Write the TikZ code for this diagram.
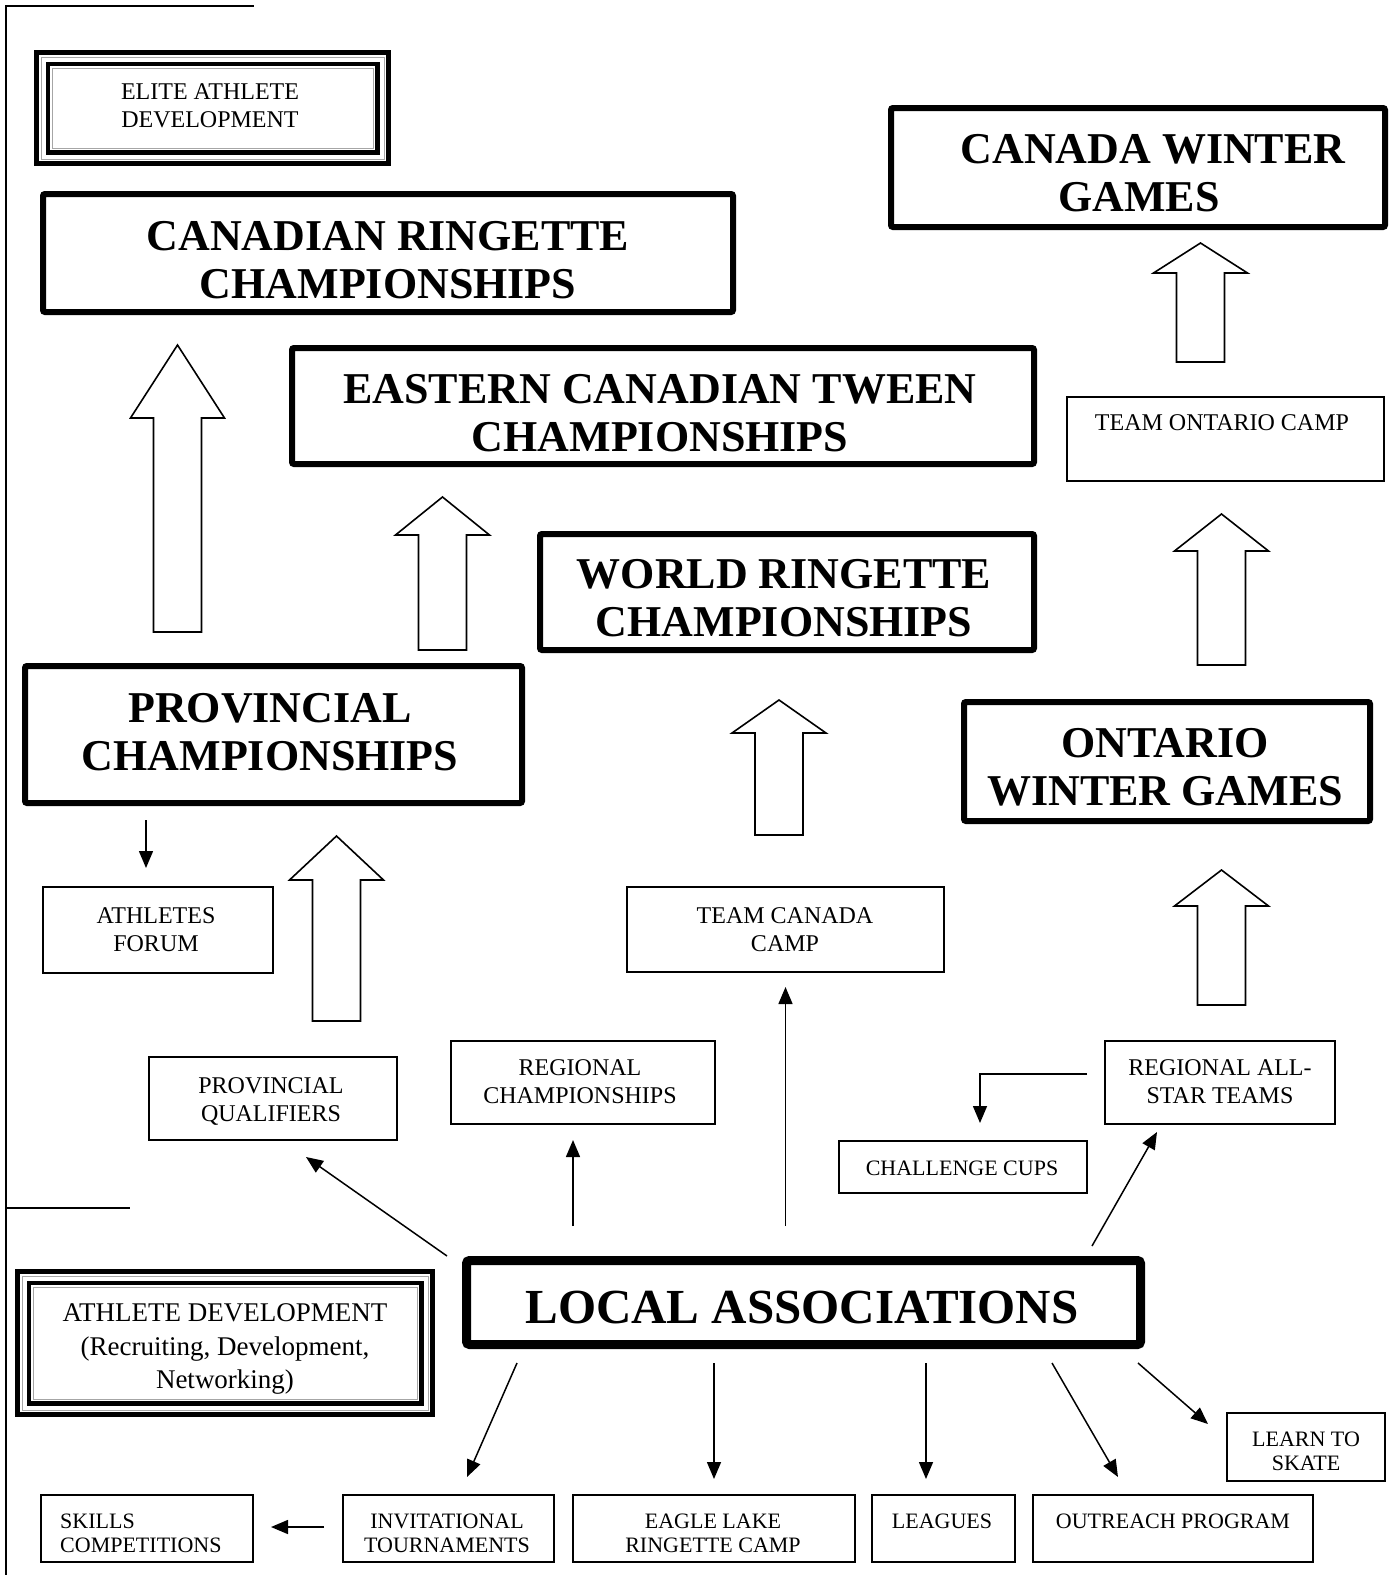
\documentclass[tikz,border=0pt]{standalone}
\usepackage{fontspec}
\setmainfont{Liberation Serif}
\usetikzlibrary{arrows.meta}
\tikzset{
 thickbox/.style={draw, line width=6pt, rounded corners=2pt, outer sep=0pt, inner sep=0pt},
 heavybox/.style={draw, line width=9pt, rounded corners=3pt, outer sep=0pt, inner sep=0pt},
 thinbox/.style={draw, line width=1.8pt, outer sep=0pt, inner sep=0pt},
 framebox/.style={draw, line width=5pt, outer sep=0pt, inner sep=0pt},
 bigtxt/.style={font=\fontsize{44}{48}\selectfont\bfseries, align=center, inner sep=0pt},
 hugetxt/.style={font=\fontsize{49}{52}\selectfont\bfseries, align=center, inner sep=0pt},
 medtxt/.style={font=\fontsize{24}{28}\selectfont, align=center, inner sep=0pt},
 adtxt/.style={font=\fontsize{27}{33.5}\selectfont, align=center, inner sep=0pt},
 smalltxt/.style={font=\fontsize{22}{24}\selectfont, align=center, inner sep=0pt},
 conn/.style={line width=1.5pt, -{Triangle[length=17pt,width=14pt]}},
 blk/.style={draw, line width=1.6pt, fill=white, line join=miter},
 rule/.style={line width=2.5pt},
 thinframe/.style={draw=gray!70, line width=1pt},
 midframe/.style={draw, line width=4.5pt},
}
\newcommand\blockarr[4]{%
 \draw[blk] (#1,#2) -- (#1+47,#3) -- (#1+24,#3) -- (#1+24,#4) -- (#1-24,#4) -- (#1-24,#3) -- (#1-47,#3) -- cycle;}
\newcommand\innerframes[1]{%
 \draw[thinframe] ([shift={(4.5,4.5)}]#1.north west) rectangle ([shift={(-4.5,-4.5)}]#1.south east);
 \draw[midframe] ([shift={(11.25,11.25)}]#1.north west) rectangle ([shift={(-11.25,-11.25)}]#1.south east);
 \draw[thinframe] ([shift={(15.5,15.5)}]#1.north west) rectangle ([shift={(-15.5,-15.5)}]#1.south east);}
\begin{document}
\begin{tikzpicture}[x=1pt,y=-1pt]
\useasboundingbox[fill=white] (0,0) rectangle (1397,1575);

% margin rules
\draw[rule] (5,6) -- (254,6);
\draw[rule] (6,5) -- (6,1575);
\draw[rule] (5,1208) -- (130,1208);

% framed boxes
\node[framebox, minimum width=352pt, minimum height=111pt] (ead) at (212.5,108) {};
\innerframes{ead}
\node[medtxt] (ead-t) at (210,106) {ELITE ATHLETE\\DEVELOPMENT};

\node[framebox, minimum width=415pt, minimum height=143pt] (ad) at (225,1343) {};
\innerframes{ad}
\node[adtxt] (ad-t) at (225,1349) {ATHLETE DEVELOPMENT\\(Recruiting, Development,\\Networking)};

% thick boxes
\node[thickbox, minimum width=690pt, minimum height=118pt] (crc) at (388,253) {};
\node[bigtxt] (crc-t) at (388,260) {CANADIAN RINGETTE\\CHAMPIONSHIPS};

\node[thickbox, minimum width=742pt, minimum height=116pt] (ectc) at (663,406) {};
\node[bigtxt] (ectc-t) at (660,413) {EASTERN CANADIAN TWEEN\\CHAMPIONSHIPS};

\node[thickbox, minimum width=494pt, minimum height=116pt] (wrc) at (787,592) {};
\node[bigtxt] (wrc-t) at (784,598) {WORLD RINGETTE\\CHAMPIONSHIPS};

\node[thickbox, minimum width=494pt, minimum height=119pt] (cwg) at (1138,167.5) {};
\node[bigtxt] (cwg-t) at (1139,173.5) {\hspace*{28pt}CANADA WINTER\\GAMES};

\node[thickbox, minimum width=497pt, minimum height=137pt] (pc) at (273.5,734.5) {};
\node[bigtxt] (pc-t) at (270,732) {PROVINCIAL\\CHAMPIONSHIPS};

\node[thickbox, minimum width=406pt, minimum height=119pt] (owg) at (1167,761.5) {};
\node[bigtxt] (owg-t) at (1165,767) {ONTARIO\\WINTER GAMES};

\node[heavybox, minimum width=674pt, minimum height=84pt] (la) at (803.5,1302.5) {};
\node[hugetxt] (la-t) at (802,1308) {LOCAL ASSOCIATIONS};

% thin boxes
\node[thinbox, minimum width=317pt, minimum height=84pt] (toc) at (1225.5,439) {};
\node[medtxt] (toc-t) at (1222,423) {TEAM ONTARIO CAMP};

\node[thinbox, minimum width=230pt, minimum height=86pt] (af) at (158,930) {};
\node[medtxt] (af-t) at (156,930) {ATHLETES\\FORUM};

\node[thinbox, minimum width=317pt, minimum height=85pt] (tcc) at (785.5,929.5) {};
\node[medtxt] (tcc-t) at (785,930) {TEAM CANADA\\CAMP};

\node[thinbox, minimum width=264pt, minimum height=83pt] (rc) at (583,1082.5) {};
\node[medtxt] (rc-t) at (580,1082) {REGIONAL\\CHAMPIONSHIPS};

\node[thinbox, minimum width=248pt, minimum height=83pt] (pq) at (273,1098.5) {};
\node[medtxt] (pq-t) at (271,1101) {PROVINCIAL\\QUALIFIERS};

\node[thinbox, minimum width=230pt, minimum height=83pt] (rast) at (1220,1082.5) {};
\node[medtxt] (rast-t) at (1220,1082) {REGIONAL ALL-\\STAR TEAMS};

\node[thinbox, minimum width=248pt, minimum height=52pt] (cc) at (963,1167) {};
\node[smalltxt] (cc-t) at (962,1168) {CHALLENGE CUPS};

\node[thinbox, minimum width=212pt, minimum height=67pt] (sk) at (147,1528.5) {};
\node[smalltxt, align=left, anchor=west] (sk-t) at (60,1533) {SKILLS\\COMPETITIONS};

\node[thinbox, minimum width=211pt, minimum height=67pt] (inv) at (448.5,1528.5) {};
\node[smalltxt] (inv-t) at (447,1533) {INVITATIONAL\\TOURNAMENTS};

\node[thinbox, minimum width=282pt, minimum height=67pt] (eag) at (714,1528.5) {};
\node[smalltxt] (eag-t) at (713,1533) {EAGLE LAKE\\RINGETTE CAMP};

\node[thinbox, minimum width=143pt, minimum height=67pt] (lea) at (943.5,1528.5) {};
\node[smalltxt] (lea-t) at (942,1521) {LEAGUES};

\node[thinbox, minimum width=280pt, minimum height=67pt] (out) at (1173,1528.5) {};
\node[smalltxt] (out-t) at (1173,1521) {OUTREACH PROGRAM};

\node[thinbox, minimum width=158pt, minimum height=68pt] (lts) at (1306,1447) {};
\node[smalltxt] (lts-t) at (1306,1451) {LEARN TO\\SKATE};

% block arrows
\blockarr{177.5}{345}{418}{632}
\blockarr{442.5}{497}{535}{650}
\blockarr{779}{700}{733}{835}
\blockarr{1200.5}{243}{273}{362}
\blockarr{1221.5}{514}{551}{665}
\blockarr{1221.5}{870}{906}{1005}
\blockarr{336.5}{836}{880}{1021}

% connectors
\draw[conn, shorten <=17pt, shorten >=19pt] ([xshift=-12pt]af.north |- pc.south) -- ([xshift=-12pt]af.north);
\draw[conn] ([shift={(-19.5,-4.5)}]la.north west) -- ([shift={(33,17)}]pq.south);
\draw[conn, shorten <=34.5pt, shorten >=16pt] ([xshift=-10pt]rc.south |- la.north) -- ([xshift=-10pt]rc.south);
\draw[conn, shorten <=34.5pt, shorten >=15pt] (tcc.south |- la.north) -- (tcc.south);
\draw[conn] ([shift={(-48.5,-14.5)}]la.north east) -- ([shift={(-63,8)}]rast.south);
\draw[conn] ([shift={(-18,-8.5)}]rast.west) -| ([shift={(17,-18)}]cc.north);
\draw[conn] ([shift={(50.5,18.5)}]la.south west) -- ([shift={(18.5,-18)}]inv.north);
\draw[conn, shorten <=18.5pt, shorten >=16pt] (eag.north |- la.south) -- (eag.north);
\draw[conn, shorten <=18.5pt, shorten >=16pt] ([xshift=-17.5pt]lea.north |- la.south) -- ([xshift=-17.5pt]lea.north);
\draw[conn] ([shift={(248.5,18.5)}]la.south) -- ([shift={(-55,-18)}]out.north);
\draw[conn] ([shift={(-2.5,18.5)}]la.south east) -- ([shift={(-19,-23)}]lts.west);
\draw[conn] ([shift={(-19,-1.5)}]inv.west) -- ([shift={(18,-1.5)}]sk.east);
\end{tikzpicture}
\end{document}
